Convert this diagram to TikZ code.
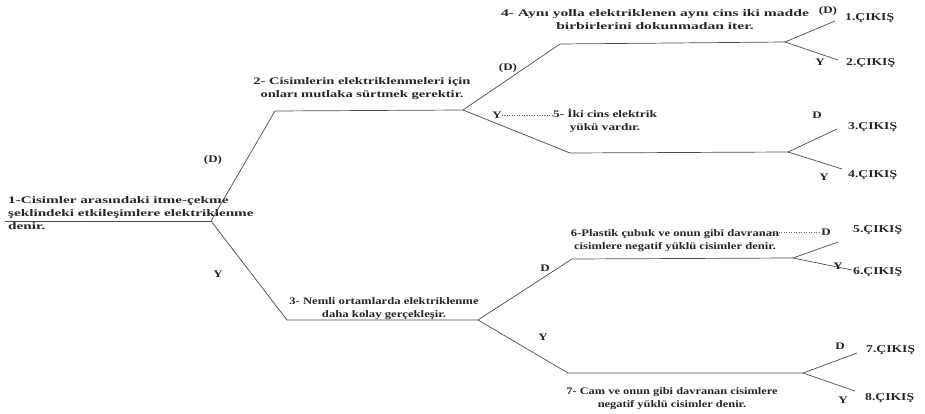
\documentclass[tikz,border=0pt]{standalone}
\usepackage{fontspec}
\setmainfont{Liberation Serif}[FakeStretch=1.3]
% stretched serif for the statement texts
\newcommand\stretchserif[1]{\fontspec[FakeStretch=#1]{Liberation Serif}}
\begin{document}
\begin{tikzpicture}[x=1pt,y=-1pt,
  txt/.style={font={\fontsize{10}{13}\selectfont\stretchserif{#1}\bfseries},
              inner sep=0pt, text=black!85},
  txt/.default=1.3,
  lbl/.style={font=\fontsize{10}{12}\selectfont\bfseries, inner sep=0pt, text=black!85},
  outp/.style={font=\fontsize{10.5}{12}\selectfont\bfseries, inner sep=0pt, text=black!85, anchor=west},
  br/.style={draw=black!70, line width=0.7pt},
  lead/.style={draw=black!60, line width=0.5pt, dotted}]
\useasboundingbox (0,0) rectangle (925,414);

% junctions and branch ends
\coordinate (s1) at (5,221);   \coordinate (j1) at (211,221);
\coordinate (s2) at (275,111); \coordinate (j2) at (463,110);
\coordinate (s4) at (560,44);  \coordinate (j4) at (785,42);
\coordinate (s5) at (570,153); \coordinate (j5) at (788,152);
\coordinate (s3) at (287,320); \coordinate (j3) at (478,320);
\coordinate (s6) at (572,259); \coordinate (j6) at (793,258);
\coordinate (s7) at (568,373); \coordinate (j7) at (803,373);
\coordinate (e1) at (835,21);  \coordinate (e2) at (838,60);
\coordinate (e3) at (837,129); \coordinate (e4) at (842,169);
\coordinate (e5) at (838,242); \coordinate (e6) at (852,270);
\coordinate (e7) at (857,353); \coordinate (e8) at (855,391);

% statements
\node[txt=1.52, align=left, anchor=west] (t1) at (8,213)
  {1-Cisimler arasındaki itme-çekme\\ şeklindeki etkileşimlere elektriklenme\\ denir.};
\node[txt=1.45, align=center] (t2) at (362,89)
  {2- Cisimlerin elektriklenmeleri için\\ onları mutlaka sürtmek gerektir.};
\node[txt=1.56, align=center] (t4) at (655,20)
  {4- Aynı yolla elektriklenen aynı cins iki madde\\ birbirlerini dokunmadan iter.};
\node[txt=1.33, align=center] (t5) at (605,121)
  {5- İki cins elektrik\\ yükü vardır.};
\node[txt=1.27, align=center] (t3) at (384,309)
  {3- Nemli ortamlarda elektriklenme\\ daha kolay gerçekleşir.};
\node[txt=1.26, align=center] (t6) at (675,241)
  {6-Plastik çubuk ve onun gibi davranan\\ cisimlere negatif yüklü cisimler denir.};
\node[txt=1.24, align=center] (t7) at (672,399)
  {7- Cam ve onun gibi davranan cisimlere\\ negatif yüklü cisimler denir.};

% branch lines
\draw[br] (s1) -- (j1);
\draw[br] (j1) -- (s2) -- (j2);
\draw[br] (j1) -- (s3) -- (j3);
\draw[br] (j2) -- (s4) -- (j4);
\draw[br] (j2) -- (s5) -- (j5);
\draw[br] (j3) -- (s6) -- (j6);
\draw[br] (j3) -- (s7) -- (j7);
\draw[br] (e1) -- (j4) -- (e2);
\draw[br] (e3) -- (j5) -- (e4);
\draw[br] (e5) -- (j6) -- (e6);
\draw[br] (e7) -- (j7) -- (e8);

% answer labels
\node[lbl] (d1) at (213,160) {(D)};
\node[lbl] (y1) at (218,274) {Y};
\node[lbl] (d2) at (508,68) {(D)};
\node[lbl] (y2) at (497,115) {Y};
\node[lbl] (d4) at (828,11) {(D)};
\node[lbl] (y4) at (820,62) {Y};
\node[lbl] (d5) at (817,115) {D};
\node[lbl] (y5) at (824,177) {Y};
\node[lbl] (d3) at (545,268) {D};
\node[lbl] (y3) at (543,337) {Y};
\node[lbl] (d6) at (826,232) {D};
\node[lbl] (y6) at (838,266) {Y};
\node[lbl] (d7) at (840,346) {D};
\node[lbl] (y7) at (843,400) {Y};

\draw[lead] (y2.east) -- (t5.north west |- y2.east);
\draw[lead] (t6.north east |- d6.west) ++(-8,0) coordinate (l6) -- (d6.west);

% outputs
\node[outp] (o1) at (845,18) {1.ÇIKIŞ};
\node[outp] (o2) at (846,63) {2.ÇIKIŞ};
\node[outp] (o3) at (848,127) {3.ÇIKIŞ};
\node[outp] (o4) at (848,175) {4.ÇIKIŞ};
\node[outp] (o5) at (853,230) {5.ÇIKIŞ};
\node[outp] (o6) at (853,272) {6.ÇIKIŞ};
\node[outp] (o7) at (866,350) {7.ÇIKIŞ};
\node[outp] (o8) at (865,398) {8.ÇIKIŞ};
\end{tikzpicture}
\end{document}
